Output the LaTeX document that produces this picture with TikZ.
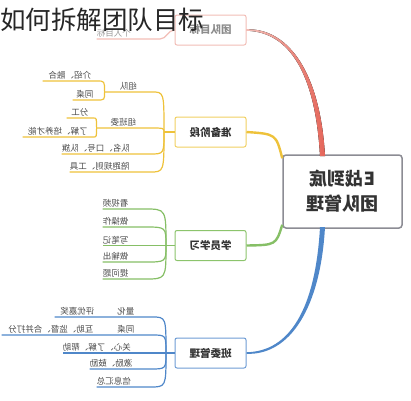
\documentclass[tikz,border=0pt]{standalone}
\usepackage{fontspec}
\setmainfont{Noto Sans CJK SC}
\usepackage{tikz}
\usepackage{xcolor}

\definecolor{rootgray}{HTML}{8C8C94}
\definecolor{redbr}{HTML}{E5665A}
\definecolor{pinkbr}{HTML}{F2BDB6}
\definecolor{yelbr}{HTML}{EEC23A}
\definecolor{yelbox}{HTML}{F1D062}
\definecolor{grnbr}{HTML}{86BF66}
\definecolor{grnbox}{HTML}{8CC46C}
\definecolor{bluebr}{HTML}{4F87C9}
\definecolor{bluebox}{HTML}{6E9CD4}
\definecolor{leaftext}{HTML}{4A4A4A}

\tikzset{
  mir/.style={xscale=-1},
  rootbox/.style={draw=rootgray, line width=1.5pt, rounded corners=3pt, fill=white,
    minimum width=119pt, minimum height=73pt, inner sep=0pt, align=center,
    text=black!80, font=\bfseries\fontsize{18}{25}\selectfont, mir},
  branchbox/.style={draw, line width=1pt, rounded corners=2pt, fill=white,
    minimum width=71pt, minimum height=30pt, inner sep=0pt,
    text=black!80, font=\bfseries\fontsize{10.5}{12}\selectfont, mir},
  leaf/.style={text=leaftext, font=\fontsize{8.5}{10}\selectfont, inner sep=0pt,
    minimum height=11pt, anchor=south west, align=center, mir},
  yline/.style={draw=yelbr, line width=1.2pt},
  gline/.style={draw=grnbr, line width=1.2pt},
  bline/.style={draw=bluebr, line width=1.2pt},
}

\begin{document}
\begin{tikzpicture}[x=1pt, y=-1pt]
	\useasboundingbox (0,0) rectangle (411,400);

	% centre box and the four main boxes (text is mirrored)
	\node[rootbox] (root) at (342.5,191.5) {E战到底\\团队管理};
	\node[branchbox, draw=pinkbr, text=black!45] (goal) at (210.5,30) {团队目标};
	\node[branchbox, draw=yelbox] (prep) at (210.5,132) {准备阶段};
	\node[branchbox, draw=grnbox] (study) at (210.5,245.5) {学员学习};
	\node[branchbox, draw=bluebox] (mgmt) at (210.5,353) {班委管理};

	% main branches, tapering from the centre box
	\fill[left color=pinkbr, middle color=redbr, right color=redbr]
		(320,156) .. controls (315.5,75) and (290,31.6) .. (goal.west |- 0,30.8)
		-- (goal.west |- 0,29.2) .. controls (290,28.4) and (320.5,75) .. (325,156) -- cycle;
	\fill[bluebr]
		(320,227) .. controls (315.5,308) and (290,351.6) .. (mgmt.west |- 0,352.2)
		-- (mgmt.west |- 0,353.8) .. controls (290,355.4) and (320.5,308) .. (325,227) -- cycle;
	\draw[yelbr, line width=2.4pt] ([yshift=-4pt]root.north east) .. controls (276,134) .. (prep.west);
	\draw[grnbr, line width=2.4pt] ([yshift=4pt]root.south east) .. controls (276,245) .. (study.west);

	% junction points left of the boxes
	\coordinate (jp) at (164,132);
	\coordinate (js) at (166,245.5);
	\coordinate (jm) at (166,353);
	\draw[yline] (prep.east) -- (jp);
	\draw[gline] (study.east) -- (js);
	\draw[bline] (mgmt.east) -- (jm);

	% goal branch
	\node[leaf, text width=63pt, align=right, text=black!40] (g1) at (160,39) {个人目标};
	\draw[draw=pinkbr, line width=1.2pt] (goal.east) to[out=180,in=0] (g1.south west) -- (g1.south east);

	% preparation branch
	\node[leaf, text width=47pt] (p1) at (152,92) {组队};
	\node[leaf, text width=54pt] (p11) at (97,81) {介绍、融合};
	\node[leaf, text width=24pt] (p12) at (97,100) {同桌};
	\node[leaf, text width=53pt] (p2) at (150,128) {组班委};
	\node[leaf, text width=26pt] (p21) at (93,118) {分工};
	\node[leaf, text width=70pt] (p22) at (93,137) {了解、培养才能};
	\node[leaf, text width=88pt, align=right] (p3) at (150,154) {队名、口号、队旗};
	\node[leaf, text width=80pt, align=right] (p4) at (150,172) {陪跑规则、工具};

	\draw[yline] (jp) .. controls (jp |- p1.south west) .. (p1.south west) -- (p1.south east);
	\draw[yline] (p1.south east) .. controls (p1.south east |- p11.south west) .. (p11.south west) -- (p11.south east);
	\draw[yline] (p1.south east) .. controls (p1.south east |- p12.south west) .. (p12.south west) -- (p12.south east);
	\draw[yline] (jp) .. controls (jp |- p2.south west) .. (p2.south west) -- (p2.south east);
	\draw[yline] (p2.south east) .. controls (p2.south east |- p21.south west) .. (p21.south west) -- (p21.south east);
	\draw[yline] (p2.south east) .. controls (p2.south east |- p22.south west) .. (p22.south west) -- (p22.south east);
	\draw[yline] (jp) .. controls (jp |- p3.south west) .. (p3.south west) -- (p3.south east);
	\draw[yline] (jp) .. controls (jp |- p4.south west) .. (p4.south west) -- (p4.south east);

	% study branch
	\node[leaf, text width=42pt, align=right] (s1) at (145,209) {看视频};
	\node[leaf, text width=42pt, align=right] (s2) at (145,227) {做操作};
	\node[leaf, text width=42pt, align=right] (s3) at (145,245.5) {写笔记};
	\node[leaf, text width=42pt, align=right] (s4) at (145,262) {做输出};
	\node[leaf, text width=42pt, align=right] (s5) at (145,279) {提问题};

	\draw[gline] (js) .. controls (js |- s1.south west) .. (s1.south west) -- (s1.south east);
	\draw[gline] (js) .. controls (js |- s2.south west) .. (s2.south west) -- (s2.south east);
	\draw[gline] (js) -- (s3.south west) -- (s3.south east);
	\draw[gline] (js) .. controls (js |- s4.south west) .. (s4.south west) -- (s4.south east);
	\draw[gline] (js) .. controls (js |- s5.south west) .. (s5.south west) -- (s5.south east);

	% class committee branch
	\node[leaf, text width=52pt] (b1) at (152,317) {量化};
	\node[leaf, text width=45pt] (b11) at (100,317) {评优嘉奖};
	\node[leaf, text width=52pt] (b2) at (152,335) {同桌};
	\node[leaf, text width=98pt] (b21) at (100,335) {互助、监督、合并打分};
	\node[leaf, text width=87pt, align=right] (b3) at (150,353) {关心、了解、帮助};
	\node[leaf, text width=60pt, align=right] (b4) at (150,369) {激励、鼓励};
	\node[leaf, text width=53pt, align=right] (b5) at (150,387) {信息汇总};

	\draw[bline] (jm) .. controls (jm |- b1.south west) .. (b1.south west) -- (b1.south east) -- (b11.south west) -- (b11.south east);
	\draw[bline] (jm) .. controls (jm |- b2.south west) .. (b2.south west) -- (b2.south east) -- (b21.south west) -- (b21.south east);
	\draw[bline] (jm) -- (b3.south west) -- (b3.south east);
	\draw[bline] (jm) .. controls (jm |- b4.south west) .. (b4.south west) -- (b4.south east);
	\draw[bline] (jm) .. controls (jm |- b5.south west) .. (b5.south west) -- (b5.south east);

	% title on top
	\node[anchor=west, inner sep=0pt, text=black!85, font=\fontsize{25.5}{28}\selectfont] (title) at (0,20) {如何拆解团队目标};
\end{tikzpicture}
\end{document}
